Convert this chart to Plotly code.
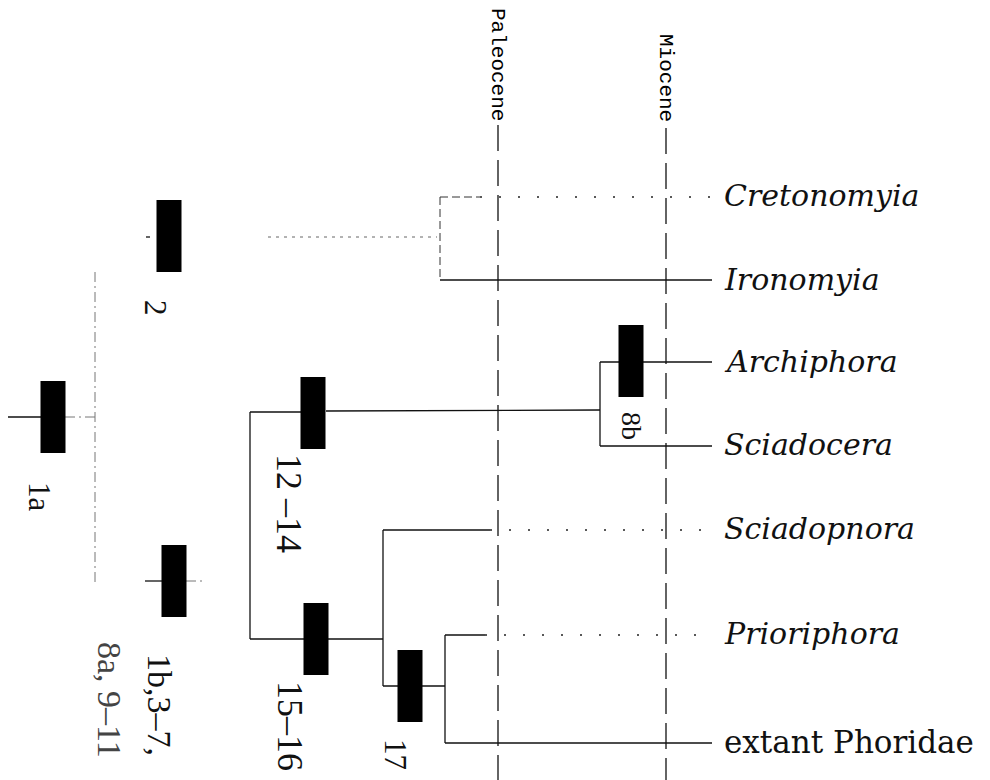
import plotly.graph_objects as go

# ---------------- data ----------------
# terminal taxa (tips of the cladogram)
taxa = ["Cretonomyia", "Ironomyia", "Archiphora", "Sciadocera",
        "Sciadopnora", "Prioriphora", "extant Phoridae"]
taxa_y = [195, 279, 361, 444, 528, 633, 742]
taxa_italic = [True, True, True, True, True, True, False]
tip_x = 712

# epoch boundary lines
epochs = ["Paleocene", "Miocene"]
epoch_x = [498, 666]
epoch_label_y = [64, 78]
epoch_line_top = [125, 128]

# character-state bars (synapomorphies): label, bar centre
char_labels = ["1a", "2", "1b,3\u20137,", "12 \u201314", "15\u201316", "17", "8b"]
char_x = [53, 169, 174, 313, 316, 410, 631]
char_y = [417, 236, 581, 413, 639, 686, 361]
char_lab_x = [40, 156, 160, 289, 290, 396, 632]
char_lab_y = [497, 308, 705, 503, 726, 754, 426]
char_lab_size = [31, 31, 34, 36, 36, 31, 28]
extra_label = "8a, 9\u201311"
extra_lab_xy = (110, 700)

# branches: x0, y0, x1, y1, style
branches = [
    # root
    (8, 417, 41, 417, "solid"),
    (65, 417, 95, 417, "dashdot"),
    (95, 272, 95, 583, "dashdot"),
    (145, 581, 162, 581, "solid"),
    (186, 581, 203, 581, "dashdot"),
    (146, 237, 150, 237, "solid"),
    # Cretonomyia + Ironomyia clade
    (268, 237, 437, 237, "dotfine"),
    (440, 197, 440, 280, "dashfine"),
    (440, 197, 480, 197, "dashfine"),
    (480, 197, tip_x, 197, "dot"),
    (440, 280, tip_x, 280, "solid"),
    # Archiphora + Sciadocera
    (250, 412, 301, 412, "solid"),
    (326, 411, 600, 410, "solid"),
    (600, 362, 600, 446, "solid"),
    (600, 362, tip_x, 362, "solid"),
    (600, 446, tip_x, 446, "solid"),
    # lower clade
    (250, 412, 250, 639, "solid"),
    (250, 639, 304, 639, "solid"),
    (328, 639, 383, 639, "solid"),
    (383, 530, 383, 686, "solid"),
    (383, 530, 490, 530, "solid"),
    (490, 530, tip_x, 530, "dot"),
    (383, 686, 445, 686, "solid"),
    (445, 635, 445, 743, "solid"),
    (445, 635, 485, 635, "solid"),
    (485, 635, tip_x, 635, "dot"),
    (445, 743, tip_x, 743, "solid"),
]

# ---------------- figure ----------------
fig = go.Figure()

styles = {
    "solid": dict(color="#111", width=1.3, dash="solid"),
    "dot": dict(color="#222", width=1.6, dash="2px,17px"),
    "dotfine": dict(color="#666", width=1.0, dash="3px,5px"),
    "dashfine": dict(color="#333", width=1.0, dash="8px,4px"),
    "dashdot": dict(color="#777", width=1.0, dash="10px,4px,2px,4px"),
}

for x0, y0, x1, y1, st in branches:
    fig.add_trace(go.Scatter(x=[x0, x1], y=[y0, y1], mode="lines",
                             line=styles[st], hoverinfo="skip", showlegend=False))

# epoch dashed lines
for name, ex, ly, top in zip(epochs, epoch_x, epoch_label_y, epoch_line_top):
    fig.add_trace(go.Scatter(x=[ex, ex], y=[top, 780], mode="lines",
                             line=dict(color="#111", width=1.3, dash="26px,9px"),
                             hoverinfo="skip", showlegend=False))
    fig.add_annotation(x=ex, y=ly, text=name, textangle=90, showarrow=False,
                       xanchor="center", yanchor="middle",
                       font=dict(family="Liberation Mono", size=21, color="#000"))

# character bars
bar_w, bar_h = 25, 72
for lab, cx, cy, lx, ly, fs in zip(char_labels, char_x, char_y,
                                   char_lab_x, char_lab_y, char_lab_size):
    fig.add_shape(type="rect", xref="x", yref="y",
                  x0=cx - bar_w / 2, x1=cx + bar_w / 2,
                  y0=cy - bar_h / 2, y1=cy + bar_h / 2,
                  fillcolor="#000", line=dict(width=0))
    fig.add_annotation(x=lx, y=ly, text=lab, textangle=90, showarrow=False,
                       xanchor="center", yanchor="middle",
                       font=dict(family="Liberation Serif", size=fs, color="#111"))

fig.add_annotation(x=extra_lab_xy[0], y=extra_lab_xy[1], text=extra_label,
                   textangle=90, showarrow=False, xanchor="center", yanchor="middle",
                   font=dict(family="Liberation Serif", size=34, color="#444"))

# taxa labels
for name, ty, it in zip(taxa, taxa_y, taxa_italic):
    txt = f"<i>{name}</i>" if it else name
    fig.add_annotation(x=722, y=ty, text=txt, showarrow=False,
                       xanchor="left", yanchor="middle",
                       font=dict(family="DejaVu Serif", size=30 if it else 31,
                                 color="#111"))

fig.update_layout(
    width=990, height=780,
    margin=dict(l=0, r=0, t=0, b=0),
    paper_bgcolor="white", plot_bgcolor="white",
    xaxis=dict(range=[0, 990], visible=False, fixedrange=True),
    yaxis=dict(range=[780, 0], visible=False, fixedrange=True),
    showlegend=False,
)

fig.write_html("out.html", config={"displayModeBar": False},
               post_script="document.body.style.margin='0';")
